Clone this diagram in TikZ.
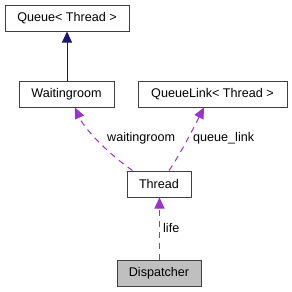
\documentclass[tikz,border=0pt]{standalone}
\usepackage{fontspec}
\setmainfont{Liberation Sans}
\usetikzlibrary{arrows.meta}
\definecolor{edgeblue}{HTML}{191970}
\definecolor{edgepurple}{HTML}{9A32CD}
\definecolor{grayfill}{HTML}{BFBFBF}
\begin{document}
\begin{tikzpicture}[x=1pt,y=-1pt,
  box/.style={draw=black!75, line width=1pt, fill=white, inner sep=0pt, font=\fontsize{12.6}{14}\selectfont},
  inh/.style={draw=edgeblue, line width=0.9pt, -{Triangle[length=11pt,width=10pt]}},
  use/.style={draw=edgepurple, line width=1pt, dash pattern=on 6pt off 5pt, -{Triangle[length=11pt,width=10pt,fill=edgepurple]}},
  lbl/.style={font=\fontsize{12.6}{14}\selectfont, inner sep=0pt}]
\useasboundingbox (0,0) rectangle (292,292);
\node[box, minimum width=124pt, minimum height=26pt] (queue) at (67,18) {Queue< Thread >};
\node[box, minimum width=95pt, minimum height=26pt] (wait) at (66.5,94) {Waitingroom};
\node[box, minimum width=149pt, minimum height=26pt] (qlink) at (212.5,94) {QueueLink< Thread >};
\node[box, minimum width=64pt, minimum height=26pt] (thread) at (159,184) {Thread};
\node[box, fill=grayfill, minimum width=84pt, minimum height=26pt] (disp) at (159,273) {Dispatcher};
\draw[inh] (wait.north -| queue.south) -- (queue.south);
\draw[use] (thread.north west) ++(6,0) coordinate (t1) (t1) .. controls (110,155) and (85,130) .. (wait.south -| 75,0);
\draw[use] (thread.north) ++(10,0) coordinate (t2) (t2) .. controls (180,155) and (195,125) .. (qlink.south -| 204,0);
\draw[use] ([xshift=0.5pt]disp.north) -- ([xshift=0.5pt]thread.south);
\node[lbl, anchor=west] (lw) at (107,138) {waitingroom};
\node[lbl, anchor=west] (lq) at (193,138) {queue\_link};
\node[lbl, anchor=west] (ll) at (163,228) {life};
\end{tikzpicture}
\end{document}
